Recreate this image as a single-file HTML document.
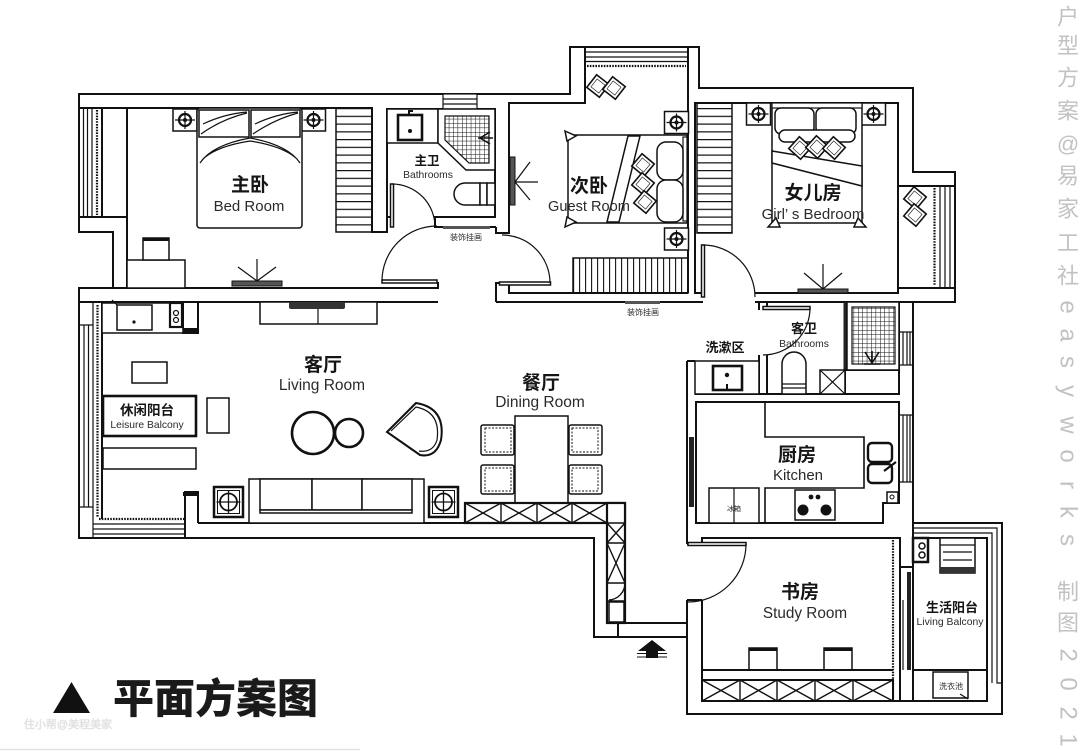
<!DOCTYPE html>
<html><head><meta charset="utf-8"><style>
html,body{margin:0;padding:0;background:#fff;}
svg{display:block;}
.w{fill:none;stroke:#111;stroke-width:2;}
.f{fill:#fff;stroke:#111;stroke-width:1.5;}
.t{fill:none;stroke:#111;stroke-width:1.2;}
.wv{fill:none;stroke:#111;stroke-width:2.2;stroke-dasharray:1.6 1.2;}
.cn{font-family:"Liberation Sans","Noto Sans CJK SC",sans-serif;font-weight:700;fill:#151515;text-anchor:middle;}
.en{font-family:"Liberation Sans","Noto Sans CJK SC",sans-serif;fill:#2a2a2a;text-anchor:middle;}
.vt{font-family:"Liberation Sans","Noto Sans CJK SC",sans-serif;fill:#c2c2c2;text-anchor:middle;dominant-baseline:central;}
</style></head><body>
<svg width="1080" height="751" viewBox="0 0 1080 751" xmlns="http://www.w3.org/2000/svg">
<defs>
<pattern id="grid" x="0" y="0" width="4.4" height="4.4" patternUnits="userSpaceOnUse"><path d="M0,0H4.4M0,0V4.4" stroke="#111" stroke-width="1"/></pattern>
<pattern id="hz" x="0" y="108" width="20" height="7.75" patternUnits="userSpaceOnUse"><path d="M0,0.6H20" stroke="#111" stroke-width="1.3"/></pattern>
<pattern id="vtp" x="573" y="0" width="6" height="20" patternUnits="userSpaceOnUse"><path d="M0.6,0V20" stroke="#111" stroke-width="1.1"/></pattern>
<g id="lamp"><rect x="-12" y="-11" width="24" height="22" fill="#fff" stroke="#111" stroke-width="1.5"/><circle r="6" fill="none" stroke="#111" stroke-width="2.2"/><circle r="2" fill="#111"/><path d="M-10,0H10M0,-9V9" stroke="#111" stroke-width="1.2"/></g>
<g id="lamp2"><rect x="-14.5" y="-15" width="29" height="30" fill="#fff" stroke="#111" stroke-width="2.5"/><rect x="-11" y="-11.5" width="22" height="23" fill="none" stroke="#111" stroke-width="1"/><circle r="8.5" fill="none" stroke="#111" stroke-width="1.8"/><path d="M-12,0H12M0,-12V12" stroke="#111" stroke-width="1.3"/></g>
<g id="cush"><rect x="-8" y="-8" width="16" height="16" fill="#fff" stroke="#111" stroke-width="1.6"/><rect x="-5" y="-5" width="10" height="10" fill="none" stroke="#111" stroke-width="0.6"/></g>
</defs>
<rect width="1080" height="751" fill="#fff"/>

<!-- OUTER BOUNDARY -->
<path class="w" d="M79,94 H570 V47 H699 V88 H913 V172 H955 V302 H913 V523 H1002 V714 H687 V637 H594 V538 H79 V288 H113 V232 H79 Z"/>

<!-- MASTER BEDROOM walls -->
<path class="w" d="M79,108 H372 V232 H387 V217"/>
<path class="w" d="M127,108 V288"/>
<path class="w" d="M102,108 V217 M79,217 H127"/>
<path class="t" d="M83.5,108 V217 M87.5,108 V217 M92,108 V217"/>
<path class="wv" d="M97,110 V215"/>
<path class="w" d="M113,288 H438 V282"/>
<path class="w" d="M79,302 H438"/>
<!-- master bath -->
<path class="w" d="M392,217 H387 V109 H495 V217 H435 V227 H496"/>
<!-- corridor / guest left wall -->
<path class="w" d="M496,227 V233 H509 V103 H585 V47"/>
<path class="w" d="M496,302 V283 H509 V293 H688"/>
<path class="w" d="M688,47 V293"/>
<path class="w" d="M496,302 H703 M755,302 H913"/>
<!-- guest bay window -->
<path class="t" d="M585,52 H688 M585,57 H688 M585,61.5 H688"/>
<path class="wv" d="M587,66 H686"/>
<!-- girl room -->
<path class="w" d="M703,293 H695 V103 H898 V293 H755"/>
<path class="w" d="M898,186 H955 M898,288 H955"/>
<path class="t" d="M940,186 V288 M945,186 V288 M950,186 V288"/>
<path class="wv" d="M934.5,188 V286"/>
<!-- right side windows -->
<path class="t" d="M899,332 H913 M899,365 H913 M903,332 V365 M907,332 V365 M910,332 V365"/>
<path class="t" d="M899,415 H913 M899,482 H913 M903,415 V482 M907,415 V482 M910,415 V482"/>

<!-- WASH / GUEST BATH / KITCHEN -->
<path class="w" d="M687,361 V544 M687,600 V637 M687,361 H695"/>
<path class="w" d="M759,302 V310 M759,355 V394 M767,302 V310 M767,355 V394"/>
<path class="w" d="M695,394 H899 V302"/>
<path class="w" d="M696,402 V523 H883 V503 H899 V402 Z"/>
<rect x="689" y="437" width="5" height="70" fill="#222"/>
<rect x="843.5" y="302" width="3" height="68" fill="#222"/>
<path class="w" d="M845,370 V394 M845,370 H899"/>

<!-- STUDY -->
<path class="w" d="M702,544 V538 H900 V701 H702 V600"/>
<path class="w" d="M687,544 H702 M687,600 H702"/>
<path class="wv" d="M893,540 V699"/>
<path class="w" d="M900,567 H913 M913,523 V701"/>
<rect x="907" y="572" width="4" height="98" fill="#222"/>
<path class="t" d="M903,600 V670"/>
<!-- LIVING BALCONY -->
<path class="t" d="M913,528 H997 V683 H1002 M913,533 H992 V683"/>
<path class="w" d="M913,538 H987 V701 H900"/>
<path class="w" d="M913,670 H987"/>

<!-- ENTRANCE -->
<path class="w" d="M608,523 V623 H687 M618,623 V637"/>
<polygon points="652,640 666,651 638,651" fill="#111"/>
<rect x="646" y="651" width="12" height="7" fill="#111"/>
<path d="M637,653.5H667 M637,657H667" stroke="#111" stroke-width="1"/>

<!-- LIVING area walls -->
<path class="w" d="M102,302 V519"/>
<path class="t" d="M93,302 V538 M84,325 V507 M88.5,325 V507 M79,325 H93 M79,507 H93"/>
<path class="wv" d="M97.5,305 V517 M99,519 H184"/>
<path class="t" d="M93,524 H185 M93,529 H185 M93,534 H185"/>
<path class="w" d="M183,302 V333 H198 V302 M185,538 V492 H198 V523"/>
<rect x="183" y="328" width="15" height="5" fill="#111"/>
<rect x="183" y="492" width="15" height="4" fill="#111"/>
<path class="w" d="M198,523 H465"/>

<!-- MASTER BEDROOM furniture -->
<use href="#lamp" x="185" y="120"/>
<use href="#lamp" x="313.5" y="120"/>
<rect x="197" y="108" width="105" height="120" rx="3" class="f"/>
<rect x="199" y="110" width="50" height="27" class="f"/>
<rect x="251" y="110" width="49" height="27" class="f"/>
<path class="t" d="M201,134 Q222,119 247,113 M203,124 Q224,114 247,112 M253,134 Q275,119 298,113 M255,124 Q276,114 298,112"/>
<path class="t" d="M200,163 Q212,145 250,138 Q288,145 300,163 M204,158 Q218,146 250,141 Q282,146 296,158"/>
<rect x="336" y="108" width="36" height="124" fill="url(#hz)" stroke="#111" stroke-width="1.5"/>
<rect x="127" y="260" width="58" height="28" class="f"/>
<rect x="143" y="238" width="26" height="22" class="f"/>
<rect x="143" y="238" width="26" height="3" fill="#111"/>
<rect x="232" y="281" width="50" height="5" fill="#555" stroke="#111" stroke-width="1"/>
<path class="t" d="M257,281 V259 M257,281 L238,267 M257,281 L276,267"/>
<!-- master bedroom door -->
<rect x="382" y="280" width="55" height="3" class="f"/>
<path class="t" d="M382,281 A55,55 0 0 1 437,226"/>

<!-- MASTER BATH furniture -->
<rect x="443" y="94" width="34" height="15" fill="#fff" stroke="#111" stroke-width="1.2"/>
<path class="t" d="M443,99 H477 M443,104 H477"/>
<rect x="387" y="109" width="51" height="34" class="f"/>
<rect x="398" y="115" width="24" height="25" fill="#fff" stroke="#111" stroke-width="2.6"/>
<circle cx="410" cy="131" r="2" fill="#111"/>
<path d="M409,115 V111 H413" stroke="#111" stroke-width="2" fill="none"/>
<polygon points="438,109 495,109 495,170 466,170 438,143" class="f"/>
<polygon points="445,116 489,116 489,163 469,163 445,140" fill="url(#grid)" stroke="#111" stroke-width="1.2"/>
<path d="M480,138 L490,132 M480,138 L490,144 M478,138 H493" stroke="#111" stroke-width="1.5"/>
<path class="f" d="M480,183 H465 A11,11 0 0 0 465,205 H480 Z"/>
<rect x="480" y="183" width="7" height="22" class="f"/>
<rect x="487" y="183" width="8" height="22" class="f"/>
<rect x="390.5" y="184" width="3" height="43" class="f"/>
<path class="t" d="M392,184 A43,43 0 0 1 435,227"/>
<!-- corridor picture -->
<rect x="443" y="226" width="47" height="3" fill="#555"/>
<text class="en" x="466" y="240" font-size="8">装饰挂画</text>

<!-- GUEST ROOM furniture -->
<use href="#cush" transform="translate(598,86) rotate(38)"/>
<use href="#cush" transform="translate(614,88) rotate(38)"/>
<use href="#lamp" x="676.5" y="122.5"/>
<use href="#lamp" x="676.5" y="239"/>
<rect x="568" y="135" width="119" height="88" class="f"/>
<polygon points="565,131 576,136 567,141" class="f"/>
<polygon points="565,227 576,222 567,217" class="f"/>
<rect x="683" y="137" width="4" height="84" fill="#fff" stroke="#111" stroke-width="1.2"/>
<rect x="657" y="142" width="26" height="38" rx="9" class="f"/>
<rect x="657" y="180" width="26" height="42" rx="9" class="f"/>
<polygon points="628,136 640,136 619,222 607,222" class="f"/>
<use href="#cush" transform="translate(643,165) rotate(40)"/>
<use href="#cush" transform="translate(643,184) rotate(40)"/>
<use href="#cush" transform="translate(645,202) rotate(40)"/>
<rect x="510" y="157" width="5" height="48" fill="#555" stroke="#111" stroke-width="1"/>
<path class="t" d="M515,182 L530,162 M515,182 H538 M515,182 L530,200"/>
<rect x="573" y="258" width="115" height="35" fill="url(#vtp)" stroke="#111" stroke-width="1.5"/>
<rect x="499.5" y="282" width="51" height="3" class="f"/>
<path class="t" d="M502,235 A48,48 0 0 1 550,283"/>
<rect x="625" y="301" width="35" height="3" fill="#555"/>
<text class="en" x="643" y="315" font-size="8">装饰挂画</text>

<!-- GIRL ROOM furniture -->
<rect x="697" y="103" width="35" height="130" fill="url(#hz)" stroke="#111" stroke-width="1.5"/>
<use href="#lamp" x="758.5" y="114"/>
<use href="#lamp" x="873.5" y="114"/>
<rect x="772" y="103" width="90" height="120" class="f"/>
<polygon points="768,227 776,218 780,227" class="f"/>
<polygon points="866,227 858,218 854,227" class="f"/>
<rect x="772" y="103" width="90" height="5" fill="#fff" stroke="#111" stroke-width="1.2"/>
<rect x="775" y="108" width="39" height="26" rx="6" class="f"/>
<rect x="816" y="108" width="40" height="26" rx="6" class="f"/>
<rect x="779" y="130" width="76" height="12" rx="6" class="f"/>
<polygon points="772,151 862,166 862,186 772,163" class="f"/>
<use href="#cush" transform="translate(800,148) rotate(42)"/>
<use href="#cush" transform="translate(817,147) rotate(42)"/>
<use href="#cush" transform="translate(834,148) rotate(42)"/>
<use href="#cush" transform="translate(915,198) rotate(40)"/>
<use href="#cush" transform="translate(915,215) rotate(40)"/>
<rect x="798" y="289" width="50" height="4" fill="#555" stroke="#111" stroke-width="1"/>
<path class="t" d="M823,289 V264 M823,289 L804,273 M823,289 L842,273"/>
<rect x="701.5" y="245" width="3" height="52" class="f"/>
<path class="t" d="M703,245 A52,52 0 0 1 755,297"/>

<!-- WASH area -->
<rect x="695" y="361" width="64" height="33" class="f"/>
<rect x="713" y="366" width="29" height="24" fill="#fff" stroke="#111" stroke-width="2.6"/>
<circle cx="727" cy="375" r="2.2" fill="#111"/>
<path d="M727,390 V384" stroke="#111" stroke-width="2"/>

<!-- GUEST BATH -->
<rect x="847" y="302" width="52" height="68" class="f"/>
<rect x="852" y="307" width="43" height="57" fill="url(#grid)" stroke="#111" stroke-width="1.2"/>
<path d="M864,364 H880 M872,363 L865,352 M872,363 L879,352 M872,363 V351" stroke="#111" stroke-width="1.6"/>
<path class="f" d="M782,394 V364 A12,12 0 0 1 806,364 V394 Z"/>
<path class="t" d="M782,384 H806 M782,388 H806"/>
<rect x="820" y="370" width="25" height="24" class="f"/>
<path class="t" d="M820,370 L845,394 M845,370 L820,394"/>
<rect x="763" y="306.5" width="47" height="3" class="f"/>
<path class="t" d="M810,308 A47,47 0 0 1 763,355"/>

<!-- KITCHEN -->
<path class="w" style="stroke-width:1.6" d="M765,402 V437 H864 V488 H765 V523"/>
<rect x="709" y="488" width="50" height="35" class="f"/>
<path class="t" d="M734,488 V523"/>
<text class="en" x="734" y="511" font-size="7">冰箱</text>
<rect x="795" y="490" width="40" height="30" class="f"/>
<circle cx="803" cy="510" r="5.5" fill="#111"/>
<circle cx="826" cy="510" r="5.5" fill="#111"/>
<circle cx="811" cy="497" r="2.4" fill="#111"/>
<circle cx="818" cy="497" r="2.4" fill="#111"/>
<rect x="868" y="443" width="24" height="19" rx="4" fill="#fff" stroke="#111" stroke-width="2.4"/>
<rect x="868" y="464" width="24" height="19" rx="4" fill="#fff" stroke="#111" stroke-width="2.4"/>
<path d="M884,471 L896,462" stroke="#111" stroke-width="2.2"/>
<rect x="887" y="492" width="11" height="11" class="f"/>
<circle cx="892" cy="497" r="2" fill="none" stroke="#111" stroke-width="1"/>

<!-- STUDY furniture -->
<rect x="688" y="542.5" width="58" height="3" class="f"/>
<path class="t" d="M746,544 A58,58 0 0 1 688,602"/>
<rect x="749" y="648" width="28" height="22" class="f"/>
<rect x="749" y="648" width="28" height="3" fill="#111"/>
<rect x="824" y="648" width="28" height="22" class="f"/>
<rect x="824" y="648" width="28" height="3" fill="#111"/>
<path class="w" d="M702,670 H893"/>
<rect x="702" y="680" width="191" height="21" class="f" style="stroke-width:2"/>
<path class="t" style="stroke-width:1.4" d="M740,680 V701 M777,680 V701 M815,680 V701 M853,680 V701 M702,680 L740,701 M740,680 L702,701 M740,680 L777,701 M777,680 L740,701 M777,680 L815,701 M815,680 L777,701 M815,680 L853,701 M853,680 L815,701 M853,680 L893,701 M893,680 L853,701"/>

<!-- LIVING BALCONY furniture -->
<rect x="913" y="538" width="15" height="24" fill="#fff" stroke="#111" stroke-width="2.5"/>
<circle cx="922" cy="546" r="3" fill="none" stroke="#111" stroke-width="1.5"/>
<circle cx="922" cy="555" r="3" fill="none" stroke="#111" stroke-width="1.5"/>
<rect x="940" y="538" width="35" height="35" class="f"/>
<path class="t" d="M940,545 H975 M943,552 H972 M943,560 H972"/>
<rect x="940" y="567" width="35" height="6" fill="#333"/>
<rect x="933" y="672" width="35" height="26" class="f"/>
<path class="t" d="M960,694 L968,699"/>
<text class="en" x="951" y="689" font-size="8">洗衣池</text>

<!-- LEISURE BALCONY / LIVING furniture -->
<rect x="102" y="303" width="81" height="30" class="f"/>
<rect x="117" y="305" width="35" height="25" class="f"/>
<circle cx="134" cy="322" r="1.6" fill="#111"/>
<path class="t" d="M117,305 L112,300"/>
<rect x="170" y="303" width="12" height="24" fill="#fff" stroke="#111" stroke-width="2.2"/>
<circle cx="176" cy="313" r="2.5" fill="none" stroke="#111" stroke-width="1.2"/>
<circle cx="176" cy="320" r="2.5" fill="none" stroke="#111" stroke-width="1.2"/>
<rect x="132" y="362" width="35" height="21" class="f"/>
<rect x="103" y="396" width="93" height="40" fill="#fff" stroke="#111" stroke-width="2.6"/>
<rect x="207" y="398" width="22" height="35" class="f"/>
<rect x="103" y="448" width="93" height="21" class="f"/>
<circle cx="313" cy="433" r="21" fill="#fff" stroke="#111" stroke-width="2.6"/>
<circle cx="349" cy="433" r="14" fill="#fff" stroke="#111" stroke-width="2.6"/>
<path class="f" style="stroke-width:2" d="M387,432 L416,403 Q446,408 441,440 Q436,458 420,455 Z"/>
<path class="t" d="M391,431 L416,407 Q441,412 437,440 Q433,453 419,451"/>
<rect x="249" y="479" width="175" height="44" class="f"/>
<rect x="260" y="479" width="52" height="31" class="f"/>
<rect x="312" y="479" width="50" height="31" class="f"/>
<rect x="362" y="479" width="50" height="31" class="f"/>
<rect x="260" y="510" width="152" height="3" class="f"/>
<use href="#lamp2" x="228.5" y="502"/>
<use href="#lamp2" x="443.5" y="502"/>
<rect x="260" y="302" width="117" height="22" class="f"/>
<path class="t" d="M318,302 V324"/>
<rect x="289" y="302" width="56" height="7" fill="#333" rx="2"/>

<!-- DINING -->
<rect x="515" y="416" width="53" height="87" class="f"/>
<g>
<rect x="481" y="425" width="33" height="30" rx="2" class="f"/><rect x="485" y="428" width="26" height="24" fill="none" stroke="#111" stroke-width="1" stroke-dasharray="2 1.5"/>
<rect x="481" y="465" width="33" height="29" rx="2" class="f"/><rect x="485" y="468" width="26" height="23" fill="none" stroke="#111" stroke-width="1" stroke-dasharray="2 1.5"/>
<rect x="569" y="425" width="33" height="30" rx="2" class="f"/><rect x="572" y="428" width="26" height="24" fill="none" stroke="#111" stroke-width="1" stroke-dasharray="2 1.5"/>
<rect x="569" y="465" width="33" height="29" rx="2" class="f"/><rect x="572" y="468" width="26" height="23" fill="none" stroke="#111" stroke-width="1" stroke-dasharray="2 1.5"/>
</g>
<rect x="465" y="503" width="160" height="20" fill="#fff" stroke="#111" stroke-width="2.2"/>
<path class="t" style="stroke-width:1.4" d="M501,503 V523 M537,503 V523 M572,503 V523 M607,503 V523 M465,503 L501,523 M501,503 L465,523 M501,503 L537,523 M537,503 L501,523 M537,503 L572,523 M572,503 L537,523 M572,503 L607,523 M607,503 L572,523"/>
<rect x="607" y="503" width="18" height="120" fill="#fff" stroke="#111" stroke-width="2.2"/>
<path class="t" style="stroke-width:1.4" d="M607,523 H625 M607,543 H625 M607,583 H625 M607,523 L625,543 M625,523 L607,543 M607,543 L625,583 M625,543 L607,583 M625,583 A17,17 0 0 1 609,600 M607,601 H625"/>
<rect x="609" y="602" width="15" height="20" class="f"/>

<!-- LABELS -->
<text class="cn" x="250" y="191" font-size="19">主卧</text>
<text class="en" x="249" y="211" font-size="15">Bed Room</text>
<text class="cn" x="427" y="165" font-size="12.5">主卫</text>
<text class="en" x="428" y="178" font-size="10.3">Bathrooms</text>
<text class="cn" x="589" y="192" font-size="19">次卧</text>
<text class="en" x="589" y="211" font-size="14.6">Guest Room</text>
<text class="cn" x="813" y="199" font-size="19">女儿房</text>
<text class="en" x="813" y="219" font-size="15">Girl’ s Bedroom</text>
<text class="cn" x="323" y="371" font-size="19">客厅</text>
<text class="en" x="322" y="390" font-size="15.5">Living Room</text>
<text class="cn" x="541" y="389" font-size="19">餐厅</text>
<text class="en" x="540" y="407" font-size="15.5">Dining Room</text>
<text class="cn" x="147" y="415" font-size="13.5">休闲阳台</text>
<text class="en" x="147" y="428" font-size="10.3">Leisure Balcony</text>
<text class="cn" x="725" y="352" font-size="13">洗漱区</text>
<text class="cn" x="804" y="333" font-size="13">客卫</text>
<text class="en" x="804" y="347" font-size="10.3">Bathrooms</text>
<text class="cn" x="797" y="461" font-size="19">厨房</text>
<text class="en" x="798" y="480" font-size="15">Kitchen</text>
<text class="cn" x="800" y="598" font-size="19">书房</text>
<text class="en" x="805" y="618" font-size="15.3">Study Room</text>
<text class="cn" x="952" y="612" font-size="13">生活阳台</text>
<text class="en" x="950" y="625" font-size="10.4">Living Balcony</text>

<!-- TITLE -->
<polygon points="53,713 71.5,682 90,713" fill="#111"/>
<text x="113" y="713" font-family="Liberation Sans, Noto Sans CJK SC, sans-serif" font-weight="900" font-size="41" fill="#1a1a1a">平面方案图</text>
<text x="68" y="728" font-family="Liberation Sans, Noto Sans CJK SC, sans-serif" font-size="11" fill="#d2d2d2" text-anchor="middle" stroke="#e6e6e6" stroke-width="0.6">住小帮@美程美家</text>
<line x1="0" y1="749.5" x2="360" y2="749.5" stroke="#e2e2e2" stroke-width="1.5"/>

<!-- VERTICAL WATERMARK -->
<g class="vt" font-size="22">
<text x="1068" y="17">户</text>
<text x="1068" y="46">型</text>
<text x="1068" y="78">方</text>
<text x="1068" y="111">案</text>
<text x="1068" y="144">@</text>
<text x="1068" y="176">易</text>
<text x="1068" y="209">家</text>
<text x="1068" y="243">工</text>
<text x="1068" y="276">社</text>
<text x="1068" y="592">制</text>
<text x="1068" y="623">图</text>
</g>
<g class="vt" font-size="24">
<text transform="translate(1068,307) rotate(90)">e</text>
<text transform="translate(1068,335) rotate(90)">a</text>
<text transform="translate(1068,362) rotate(90)">s</text>
<text transform="translate(1068,391) rotate(90)">y</text>
<text transform="translate(1068,425) rotate(90)">w</text>
<text transform="translate(1068,456) rotate(90)">o</text>
<text transform="translate(1068,485) rotate(90)">r</text>
<text transform="translate(1068,512) rotate(90)">k</text>
<text transform="translate(1068,540) rotate(90)">s</text>
<text transform="translate(1068,655) rotate(90)">2</text>
<text transform="translate(1068,684) rotate(90)">0</text>
<text transform="translate(1068,713) rotate(90)">2</text>
<text transform="translate(1068,740) rotate(90)">1</text>
</g>
</svg>
</body></html>
